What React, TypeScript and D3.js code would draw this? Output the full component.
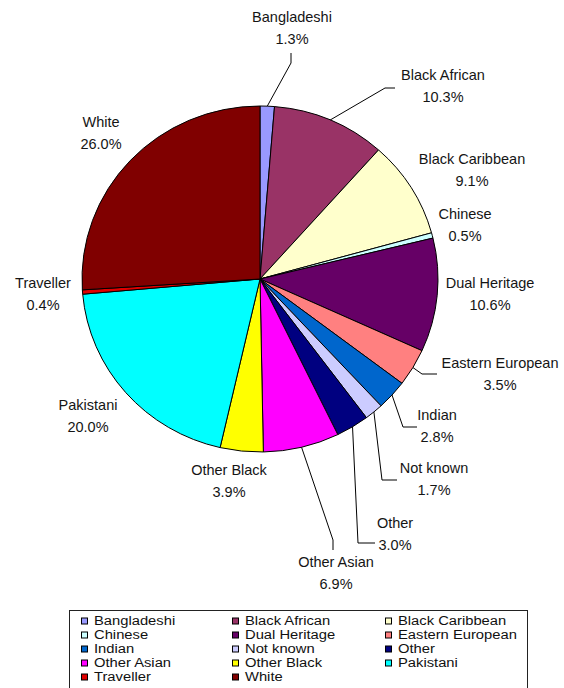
import React from "react";
import * as d3 from "d3";

const categories = [
  "Bangladeshi", "Black African", "Black Caribbean", "Chinese", "Dual Heritage",
  "Eastern European", "Indian", "Not known", "Other", "Other Asian",
  "Other Black", "Pakistani", "Traveller", "White",
];
const values = [1.3, 10.3, 9.1, 0.5, 10.6, 3.5, 2.8, 1.7, 3.0, 6.9, 3.9, 20.0, 0.4, 26.0];
const colors = [
  "#9999FF", "#993366", "#FFFFCC", "#CCFFFF", "#660066", "#FF8080", "#0066CC",
  "#CCCCFF", "#000080", "#FF00FF", "#FFFF00", "#00FFFF", "#E00000", "#800000",
];

// label layout (text centre) and leader-line bends, per category
const labelPos: [number, number][] = [
  [292, 17], [443, 75], [472, 159], [465, 214], [490, 283], [500, 363], [437, 415],
  [434, 468], [395, 523], [336, 562], [229, 470], [88, 405], [43, 283], [101, 122],
];
const leaders: ([number, number][] | null)[] = [
  [[291, 63], [291, 53]],
  [[385, 88], [395, 88]],
  null, null, null,
  [[422, 374], [437, 374]],
  [[403, 427], [417, 427]],
  [[382, 480], [397, 480]],
  [[358, 543], [375, 543]],
  [[333, 540], [333, 550]],
  null, null, null, null,
];

const W = 564, H = 688;
const cx = 260, cy = 279, rx = 178, ry = 173;

export default function App() {
  const pie = d3.pie<number>().sort(null).value((d) => d);
  const arcs = pie(values);
  const arc = d3.arc<d3.PieArcDatum<number>>().innerRadius(0).outerRadius(rx);
  const line = d3.line();

  const legendX = [81, 232, 385];
  const legendY0 = 620.5, legendDy = 14;

  return (
    <svg width={W} height={H} style={{ position: "absolute", left: 0, top: 0, background: "#fff" }}
      fontFamily="'Liberation Sans', Arial, sans-serif">
      <g transform={`translate(${cx},${cy}) scale(1,${ry / rx})`}>
        {arcs.map((a, i) => (
          <path key={i} d={arc(a) || ""} fill={colors[i]} stroke="#000" strokeWidth={1}
            vectorEffect="non-scaling-stroke" />
        ))}
      </g>
      {arcs.map((a, i) => {
        const pts = leaders[i];
        if (!pts) return null;
        const m = (a.startAngle + a.endAngle) / 2;
        const start: [number, number] = [cx + rx * Math.sin(m), cy - ry * Math.cos(m)];
        return <path key={"l" + i} d={line([start, ...pts]) || ""} fill="none" stroke="#000" strokeWidth={1} />;
      })}
      {categories.map((c, i) => (
        <g key={"t" + i} transform={`translate(${labelPos[i][0]},${labelPos[i][1]})`} fill="#151515" fontSize={14.5} textAnchor="middle">
          <text y={0} dy="0.35em">{c}</text>
          <text y={21.5} dy="0.35em">{values[i].toFixed(1)}%</text>
        </g>
      ))}
      <rect x={69.5} y={610.5} width={458} height={90} fill="#fff" stroke="#222" strokeWidth={1} />
      {categories.map((c, i) => {
        const col = i % 3, row = Math.floor(i / 3);
        const x = legendX[col], y = legendY0 + row * legendDy;
        return (
          <g key={"g" + i}>
            <rect x={x + 0.5} y={y - 2.5} width={6} height={6} fill={colors[i]} stroke="#000" strokeWidth={1} />
            <text transform={`translate(${x + 13},${y}) scale(1.23,1)`} dy="0.35em" fontSize={12} fill="#111">{c}</text>
          </g>
        );
      })}
    </svg>
  );
}
